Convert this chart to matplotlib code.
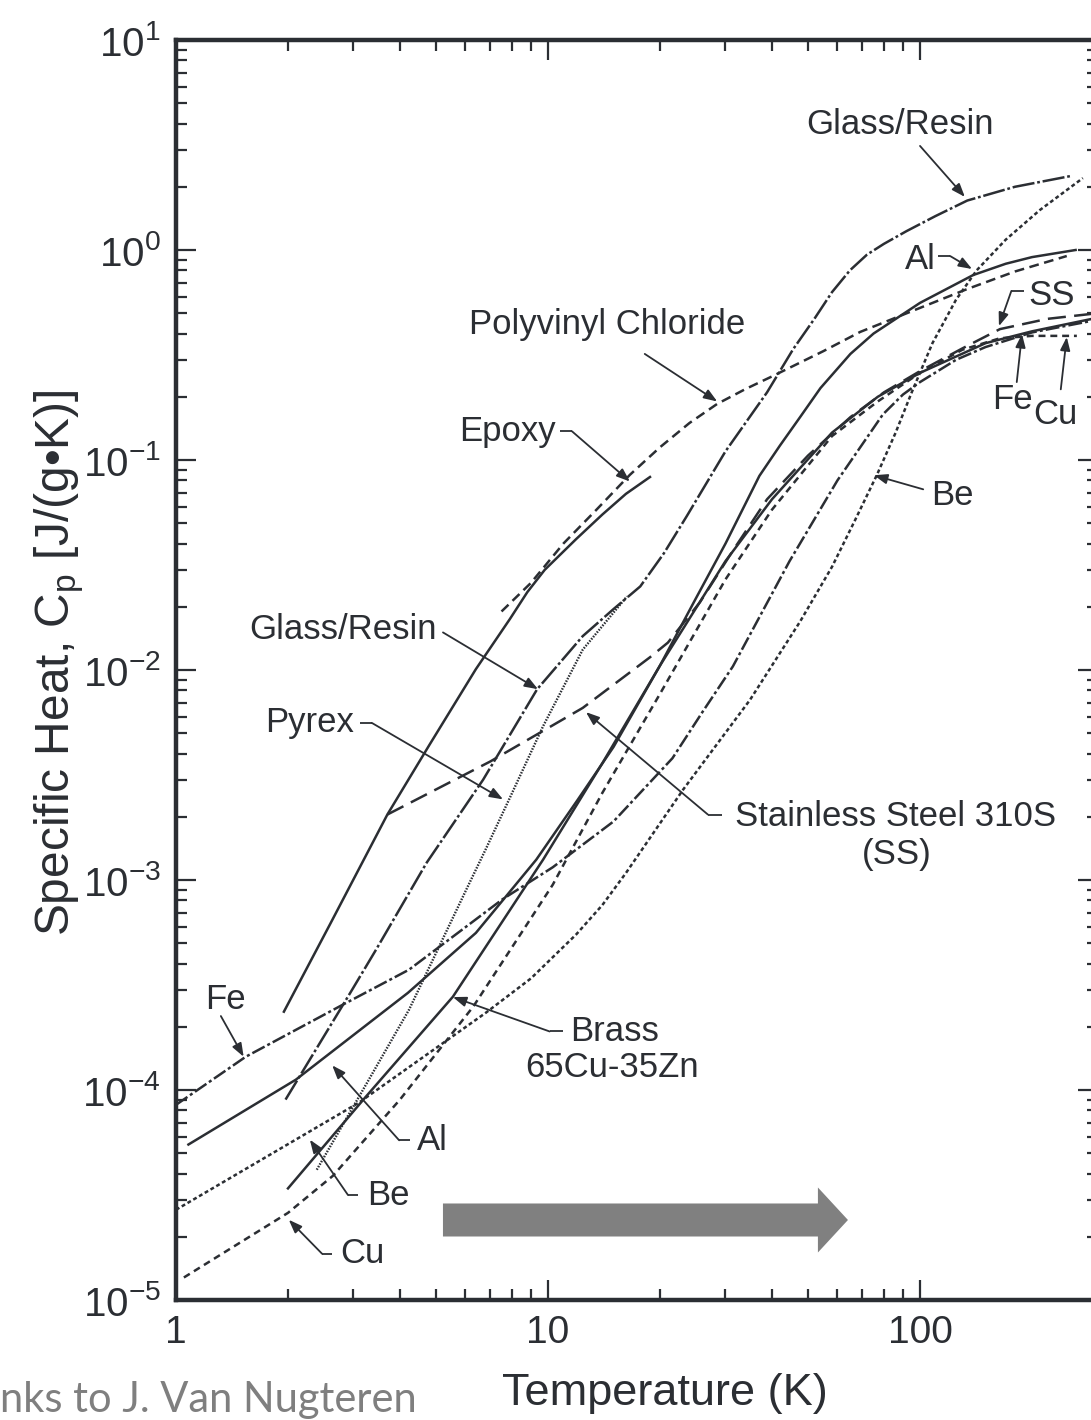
import numpy as np
import matplotlib
matplotlib.use("Agg")
import matplotlib.pyplot as plt
from matplotlib.patches import FancyArrow
from matplotlib.ticker import FixedLocator, NullFormatter

plt.rcParams['font.family'] = ['Liberation Sans', 'DejaVu Sans']
plt.rcParams['mathtext.fontset'] = 'custom'
plt.rcParams['mathtext.rm'] = 'Liberation Sans'
plt.rcParams['mathtext.it'] = 'Liberation Sans:italic'
plt.rcParams['lines.scale_dashes'] = False

INK = '#2b2e33'

# Specific heat curves: temperature (K) and Cp (J/(g K))
epoxy_T = [1.95, 2.6, 3.7, 4.8, 6.4, 7.9, 8.8, 9.8, 11.9, 14, 16.2, 18.8]
epoxy_cp = [2.36e-4, 6.2e-4, 2.05e-3, 4.4e-3, 1.01e-2, 1.75e-2, 2.35e-2, 3.0e-2, 4.2e-2, 5.5e-2, 6.9e-2, 8.3e-2]

pvc_T = [7.5, 9, 11, 13.5, 16.6, 20, 24, 28.5, 34, 40, 55, 69, 100, 134, 180, 248]
pvc_cp = [0.019, 0.026, 0.040, 0.058, 0.085, 0.115, 0.15, 0.185, 0.218, 0.25, 0.33, 0.407, 0.53, 0.652, 0.79, 0.936]

glass_T = [1.97, 2.94, 3.45, 4.72, 6.69, 9.35, 12.4, 15, 17.7, 20.5, 23.6, 30, 38.8, 45.6, 52, 58, 64.8, 72, 80,
           92, 110, 134, 180, 254]
glass_cp = [9.0e-5, 2.9e-4, 4.66e-4, 1.21e-3, 3.0e-3, 8.1e-3, 0.0145, 0.0195, 0.025, 0.036, 0.054, 0.11, 0.21,
            0.337, 0.47, 0.63, 0.80, 0.95, 1.07, 1.23, 1.45, 1.72, 2.0, 2.25]

pyrex_T = [2.39, 3.26, 4.23, 6.03, 6.8, 7.86, 9.7, 12.4, 16.3]
pyrex_cp = [4.17e-5, 1.08e-4, 2.41e-4, 9.0e-4, 1.4e-3, 2.42e-3, 5.4e-3, 0.0125, 0.0224]

ss_T = [3.7, 7.0, 12.4, 18.8, 21, 25.6, 31.4, 38.8, 50, 65, 80, 100, 130, 164, 220, 300]
ss_cp = [2.05e-3, 3.67e-3, 6.6e-3, 0.0115, 0.0135, 0.021, 0.037, 0.065, 0.105, 0.16, 0.21, 0.265,
         0.34, 0.42, 0.47, 0.50]

al_T = [1.08, 2.1, 4.2, 6.4, 9.3, 12, 15, 20, 25, 30, 37, 42, 47.6, 54, 65, 75, 100, 139, 170, 200, 262]
al_cp = [5.5e-5, 1.12e-4, 2.9e-4, 5.6e-4, 1.25e-3, 2.4e-3, 4.3e-3, 0.0105, 0.022, 0.040, 0.084, 0.117,
         0.16, 0.22, 0.32, 0.40, 0.56, 0.76, 0.86, 0.925, 1.0]

brass_T = [2.0, 3.24, 5.55, 9.7, 14, 20, 30, 40, 58, 77, 100, 150, 200, 290]
brass_cp = [3.4e-5, 9.3e-5, 2.78e-4, 1.25e-3, 3.6e-3, 0.0105, 0.033, 0.065, 0.135, 0.2, 0.26, 0.36, 0.41, 0.47]

fe_T = [1.0, 1.54, 2.81, 4.23, 7.55, 10.3, 15, 21.6, 26, 31.4, 44.6, 60, 79.5, 90, 100, 125, 150, 200, 290]
fe_cp = [8.5e-5, 1.44e-4, 2.55e-4, 3.74e-4, 8.1e-4, 1.15e-3, 1.9e-3, 3.8e-3, 6.3e-3, 0.0104, 0.033, 0.08,
         0.165, 0.205, 0.235, 0.30, 0.345, 0.405, 0.46]

cu_T = [1.05, 2.0, 2.64, 4.0, 6.3, 8.7, 10.3, 14, 20, 30, 40, 58, 77, 100, 130, 164, 200, 264]
cu_cp = [1.28e-5, 2.6e-5, 3.9e-5, 9.0e-5, 2.5e-4, 6.0e-4, 9.5e-4, 2.6e-3, 7.7e-3, 0.027, 0.058, 0.13,
         0.19, 0.26, 0.335, 0.38, 0.39, 0.39]

be_T = [1.0, 3.1, 6.8, 9.0, 11.9, 14, 16.2, 23.1, 34.9, 47.6, 58, 67, 76.6, 86, 95, 108, 125, 142, 170, 210, 274]
be_cp = [2.69e-5, 8.7e-5, 2.33e-4, 3.4e-4, 5.5e-4, 7.6e-4, 1.08e-3, 2.7e-3, 7.2e-3, 0.017, 0.031, 0.052,
         0.085, 0.135, 0.21, 0.36, 0.58, 0.80, 1.12, 1.55, 2.2]

x_major = [1, 10, 100]
x_major_labels = ['1', '10', '100']
y_exponents = [-5, -4, -3, -2, -1, 0, 1]

fig = plt.figure(figsize=(10.91, 14.20), dpi=100)
ax = fig.add_axes([176 / 1091, 120 / 1420, 921.5 / 1091, 1260 / 1420])
ax.set_xscale('log')
ax.set_yscale('log')
ax.set_xlim(1, 300)
ax.set_ylim(1e-5, 10)

lw = 1.8
ax.plot(epoxy_T, epoxy_cp, color=INK, lw=lw, ls='-')
ax.plot(pvc_T, pvc_cp, color=INK, lw=lw, dashes=(7, 4))
ax.plot(glass_T, glass_cp, color=INK, lw=lw, dashes=(16, 2, 2, 2))
ax.plot(pyrex_T, pyrex_cp, color=INK, lw=1.7, dashes=(1.1, 1.0))
ax.plot(ss_T, ss_cp, color=INK, lw=lw, dashes=(13, 6))
ax.plot(al_T, al_cp, color=INK, lw=lw, ls='-')
ax.plot(brass_T, brass_cp, color=INK, lw=lw, ls='-')
ax.plot(fe_T, fe_cp, color=INK, lw=lw, dashes=(10, 2.2, 2.2, 2.2))
ax.plot(cu_T, cu_cp, color=INK, lw=lw, dashes=(5, 3.5))
ax.plot(be_T, be_cp, color=INK, lw=lw, dashes=(2.8, 2))

# axes, ticks
for sp in ax.spines.values():
    sp.set_linewidth(3.2)
    sp.set_color(INK)

ax.xaxis.set_major_locator(FixedLocator(x_major))
ax.set_xticklabels(x_major_labels)
x_minor = [m * d for d in (1, 10) for m in range(2, 10)]
ax.xaxis.set_minor_locator(FixedLocator(x_minor))
ax.xaxis.set_minor_formatter(NullFormatter())

y_major = [10.0 ** e for e in y_exponents]
ax.yaxis.set_major_locator(FixedLocator(y_major))
ax.set_yticklabels([r'$\mathrm{10^{%d}}$' % e for e in y_exponents])
y_minor = [m * 10.0 ** e for e in y_exponents[:-1] for m in range(2, 10)]
ax.yaxis.set_minor_locator(FixedLocator(y_minor))
ax.yaxis.set_minor_formatter(NullFormatter())

ax.tick_params(which='both', direction='in', top=True, right=True, color=INK,
               labelcolor=INK, width=1.6)
ax.tick_params(axis='y', which='major', labelsize=29)
ax.tick_params(axis='x', which='major', labelsize=28)
ax.tick_params(which='major', length=14.5, pad=11)
ax.tick_params(which='minor', length=8)

ax.set_xlabel('Temperature (K)', fontsize=32.5, color=INK)
ax.xaxis.set_label_coords(0.531, -0.058)
ax.set_ylabel('Specific Heat, C$_\\mathrm{p}$ [J/(g\u2022K)]', fontsize=34.5, color=INK)
ax.yaxis.set_label_coords(-0.098, 0.506)

# labels with leader lines
LBL = 25


def leader(points):
    xs = [p[0] for p in points]
    ys = [p[1] for p in points]
    if len(points) > 2:
        ax.plot(xs[:-1], ys[:-1], color=INK, lw=1.3, solid_capstyle='butt')
    ax.annotate('', xy=points[-1], xytext=points[-2],
                arrowprops=dict(arrowstyle='-|>,head_length=0.8,head_width=0.3',
                                color=INK, lw=1.3, shrinkA=0, shrinkB=0))


def label(x, y, s, ha='center'):
    ax.text(x, y, s, fontsize=LBL, color=INK, ha=ha, va='center')


label(88.4, 3.95, 'Glass/Resin')
leader([(100, 3.13), (132, 1.79)])

label(100, 0.906, 'Al')
leader([(112, 0.936), (120.5, 0.936), (138, 0.812)])

label(226, 0.61, 'SS')
leader([(190.5, 0.638), (176, 0.638), (163, 0.434)])

label(177, 0.195, 'Fe')
leader([(182, 0.235), (188, 0.398)])

label(231, 0.165, 'Cu')
leader([(239, 0.217), (248, 0.385)])

label(14.4, 0.44, 'Polyvinyl Chloride')
leader([(18.2, 0.32), (28.5, 0.19)])

label(7.76, 0.136, 'Epoxy')
leader([(10.8, 0.137), (11.6, 0.137), (16.6, 0.079)])

label(122, 0.068, 'Be')
leader([(102, 0.0725), (75.2, 0.0846)])

label(2.81, 0.0156, 'Glass/Resin')
leader([(5.22, 0.0151), (9.4, 8.1e-3)])

label(2.28, 5.6e-3, 'Pyrex')
leader([(3.12, 5.6e-3), (3.36, 5.6e-3), (7.57, 2.42e-3)])

label(31.8, 2.0e-3, 'Stainless Steel 310S', ha='left')
label(86.7, 1.32e-3, '(SS)')
leader([(29.4, 2.05e-3), (26.9, 2.05e-3), (12.65, 6.3e-3)])

label(1.355, 2.7e-4, 'Fe')
leader([(1.32, 2.25e-4), (1.52, 1.44e-4)])

label(11.46, 1.9e-4, 'Brass', ha='left')
label(8.67, 1.28e-4, '65Cu-35Zn', ha='left')
leader([(10.97, 1.9e-4), (10.1, 1.9e-4), (5.55, 2.77e-4)])

label(4.44, 5.76e-5, 'Al', ha='left')
leader([(4.26, 5.76e-5), (3.98, 5.76e-5), (2.63, 1.31e-4)])

label(3.26, 3.16e-5, 'Be', ha='left')
leader([(3.08, 3.16e-5), (2.9, 3.16e-5), (2.29, 5.8e-5)])

label(2.76, 1.66e-5, 'Cu', ha='left')
leader([(2.63, 1.66e-5), (2.47, 1.66e-5), (2.01, 2.41e-5)])

# big grey arrow towards higher temperature
ax.add_patch(FancyArrow(0.2897, 0.0635, 0.4395, 0, width=0.0262, head_width=0.0516,
                        head_length=0.0326, length_includes_head=True,
                        transform=ax.transAxes, color='#808080', lw=0))

fig.text(0.0, 0.014, 'nks to J. Van Nugteren', fontsize=30, color='#7f7f7f',
         family=['Lato', 'DejaVu Sans'], ha='left', va='center')

fig.savefig('out.png', dpi=100)
